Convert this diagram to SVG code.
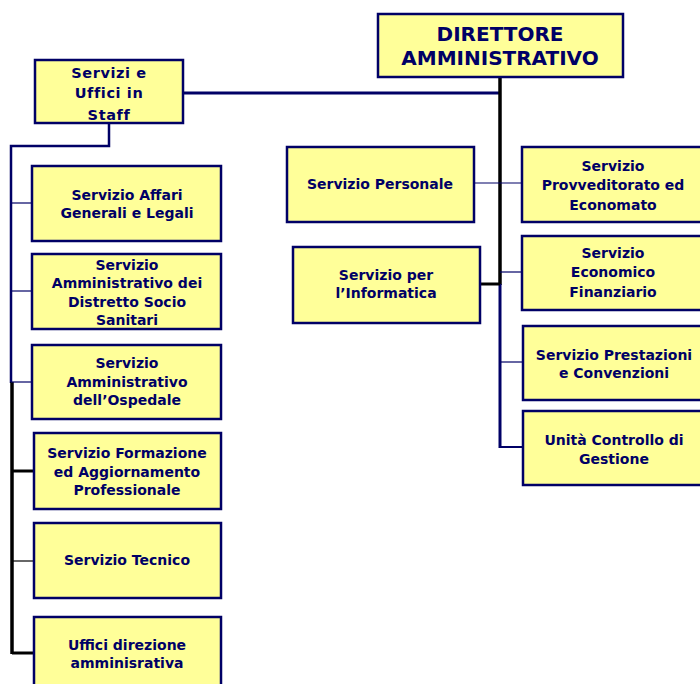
<svg xmlns="http://www.w3.org/2000/svg" width="700" height="684" viewBox="0 0 700 684">
<style>
.box{fill:#ffff99;stroke:#000066;stroke-width:2.5}
text{font-family:"DejaVu Sans",Verdana,sans-serif;font-weight:bold;font-size:14px;fill:#000066;text-anchor:middle}
.big{font-size:20px}
.st{font-size:14.5px;letter-spacing:0.6px}
.nv{stroke:#000066;fill:none}
.bk{stroke:#000000;fill:none}
</style>
<rect width="700" height="684" fill="#ffffff"/>
<g id="connectors">
<line class="nv" x1="183" y1="93" x2="500" y2="93" stroke-width="3"/>
<line class="bk" x1="500" y1="77" x2="500" y2="285" stroke-width="3.5"/>
<line class="nv" x1="500" y1="284" x2="500" y2="448" stroke-width="3"/>
<line class="nv" x1="474" y1="183" x2="523" y2="183" stroke-width="1.2"/>
<line class="bk" x1="480" y1="284" x2="500" y2="284" stroke-width="3"/>
<line class="nv" x1="500" y1="272" x2="523" y2="272" stroke-width="1.2"/>
<line class="nv" x1="500" y1="362" x2="523" y2="362" stroke-width="1.2"/>
<line class="nv" x1="500" y1="447" x2="523" y2="447" stroke-width="2"/>
<polyline class="nv" points="109,123 109,146 11,146 11,383" stroke-width="2.5"/>
<line class="bk" x1="12" y1="382" x2="12" y2="654" stroke-width="3.5"/>
<line class="nv" x1="11" y1="203" x2="32" y2="203" stroke-width="1.2"/>
<line class="nv" x1="11" y1="291" x2="32" y2="291" stroke-width="1.2"/>
<line class="nv" x1="11" y1="382" x2="32" y2="382" stroke-width="1.2"/>
<line class="bk" x1="12" y1="471" x2="34" y2="471" stroke-width="3"/>
<line class="bk" x1="12" y1="561" x2="34" y2="561" stroke-width="1.2"/>
<line class="bk" x1="12" y1="653" x2="34" y2="653" stroke-width="3"/>
</g>
<g id="direttore">
<rect class="box" x="378" y="14" width="245" height="63" stroke-width="3"/>
<text class="big" x="500" y="41">DIRETTORE</text>
<text class="big" x="500" y="65">AMMINISTRATIVO</text>
</g>
<g id="staff">
<rect class="box" x="35" y="60" width="148" height="63" stroke-width="3"/>
<text class="st" x="109" y="78">Servizi e</text>
<text class="st" x="109" y="98">Uffici in</text>
<text class="st" x="109" y="120">Staff</text>
</g>
<g id="affari">
<rect class="box" x="32" y="166" width="189" height="75"/>
<text x="127" y="200">Servizio Affari</text>
<text x="127" y="218">Generali e Legali</text>
</g>
<g id="distretto">
<rect class="box" x="32" y="254" width="189" height="75"/>
<text x="127" y="270">Servizio</text>
<text x="127" y="288">Amministrativo dei</text>
<text x="127" y="307">Distretto Socio</text>
<text x="127" y="325">Sanitari</text>
</g>
<g id="ospedale">
<rect class="box" x="32" y="345" width="189" height="74"/>
<text x="127" y="368">Servizio</text>
<text x="127" y="387">Amministrativo</text>
<text x="127" y="405">dell’Ospedale</text>
</g>
<g id="formazione">
<rect class="box" x="34" y="433" width="187" height="76" stroke-width="3"/>
<text x="127" y="458">Servizio Formazione</text>
<text x="127" y="477">ed Aggiornamento</text>
<text x="127" y="495">Professionale</text>
</g>
<g id="tecnico">
<rect class="box" x="34" y="523" width="187" height="75"/>
<text x="127" y="565">Servizio  Tecnico</text>
</g>
<g id="uffici">
<rect class="box" x="34" y="617" width="187" height="80"/>
<text x="127" y="650">Uffici direzione</text>
<text x="127" y="668">amminisrativa</text>
</g>
<g id="personale">
<rect class="box" x="287" y="147" width="187" height="75" stroke-width="2"/>
<text x="380" y="189">Servizio Personale</text>
</g>
<g id="informatica">
<rect class="box" x="293" y="247" width="187" height="76" stroke-width="3"/>
<text x="386" y="280">Servizio per</text>
<text x="386" y="298">l’Informatica</text>
</g>
<g id="provveditorato">
<rect class="box" x="522" y="147" width="185" height="75" stroke-width="3"/>
<text x="613" y="171">Servizio</text>
<text x="613" y="190">Provveditorato ed</text>
<text x="613" y="210">Economato</text>
</g>
<g id="economico">
<rect class="box" x="522" y="236" width="185" height="74" stroke-width="3"/>
<text x="613" y="258">Servizio</text>
<text x="613" y="277">Economico</text>
<text x="613" y="297">Finanziario</text>
</g>
<g id="prestazioni">
<rect class="box" x="523" y="326" width="185" height="74" stroke-width="3"/>
<text x="614" y="360">Servizio Prestazioni</text>
<text x="614" y="378">e Convenzioni</text>
</g>
<g id="controllo">
<rect class="box" x="523" y="411" width="185" height="74" stroke-width="3"/>
<text x="614" y="445">Unità Controllo di</text>
<text x="614" y="464">Gestione</text>
</g>
</svg>
